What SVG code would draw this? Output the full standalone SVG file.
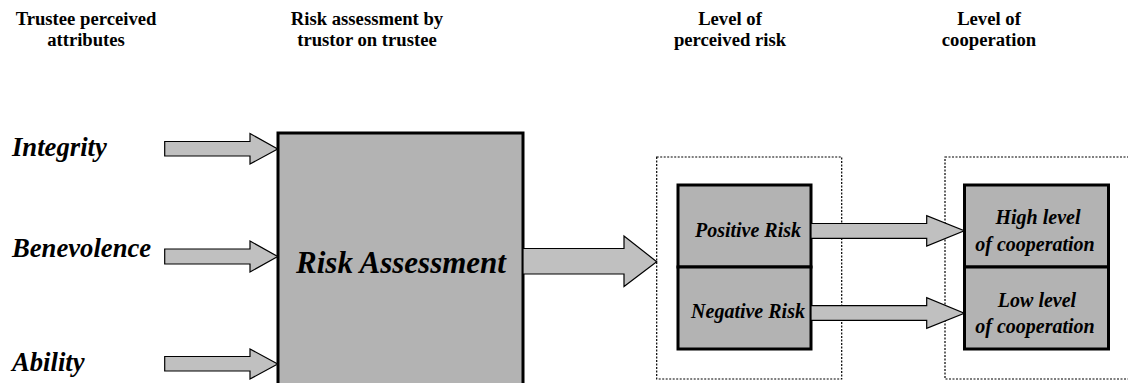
<svg xmlns="http://www.w3.org/2000/svg" width="1128" height="383" viewBox="0 0 1128 383">
  <style>
    .hdr { font-family: "Liberation Serif", "Times New Roman", serif; font-weight: bold; font-size: 18.67px; fill: #000; text-anchor: middle; }
    .attr { font-family: "Liberation Serif", "Times New Roman", serif; font-weight: bold; font-style: italic; font-size: 26.67px; fill: #000; }
    .lbl { font-family: "Liberation Serif", "Times New Roman", serif; font-weight: bold; font-style: italic; font-size: 20px; fill: #000; text-anchor: middle; }
    .big { font-family: "Liberation Serif", "Times New Roman", serif; font-weight: bold; font-style: italic; font-size: 31px; fill: #000; text-anchor: middle; }
    .box { fill: #b3b3b3; stroke: #000; stroke-width: 3; }
    .frame { fill: none; stroke: #000; stroke-width: 1.2; stroke-dasharray: 2 1.5; }
    .arrow { fill: #c0c0c0; stroke: #000; stroke-width: 1.2; stroke-linejoin: miter; }
  </style>

  <!-- column headings -->
  <g id="headings">
    <text class="hdr" x="86" y="25">Trustee perceived</text>
    <text class="hdr" x="86" y="46">attributes</text>
    <text class="hdr" x="367" y="25">Risk assessment by</text>
    <text class="hdr" x="367" y="46">trustor on trustee</text>
    <text class="hdr" x="730" y="25">Level of</text>
    <text class="hdr" x="730" y="46">perceived risk</text>
    <text class="hdr" x="989" y="25">Level of</text>
    <text class="hdr" x="989" y="46">cooperation</text>
  </g>

  <!-- trustee attributes -->
  <g id="integrity"><text class="attr" x="12" y="156">Integrity</text></g>
  <g id="benevolence"><text class="attr" x="12" y="257">Benevolence</text></g>
  <g id="ability"><text class="attr" x="12" y="371">Ability</text></g>

  <!-- central assessment block -->
  <g id="risk-assessment">
    <rect class="box" x="278" y="133" width="245" height="260"/>
    <text class="big" x="401" y="273">Risk Assessment</text>
  </g>

  <!-- perceived risk column -->
  <g id="perceived-risk">
    <rect class="frame" x="656.7" y="157" width="185" height="222"/>
    <rect class="box" x="678" y="185" width="133" height="82"/>
    <rect class="box" x="678" y="267" width="133" height="82"/>
  </g>
  <g id="positive-risk"><text class="lbl" x="748" y="237">Positive Risk</text></g>
  <g id="negative-risk"><text class="lbl" x="748" y="318">Negative Risk</text></g>

  <!-- cooperation column -->
  <g id="cooperation">
    <rect class="frame" x="945" y="157" width="200" height="222"/>
    <rect class="box" x="964.5" y="185" width="144" height="82"/>
    <rect class="box" x="964.5" y="267" width="144" height="82"/>
  </g>
  <g id="high-cooperation">
    <text class="lbl" x="1038" y="224">High level</text>
    <text class="lbl" x="1035" y="251">of cooperation</text>
  </g>
  <g id="low-cooperation">
    <text class="lbl" x="1037" y="307">Low level</text>
    <text class="lbl" x="1035" y="333">of cooperation</text>
  </g>

  <!-- block arrows -->
  <g id="connectors">
    <polygon class="arrow" points="164.7,141.5 250,141.5 250,133.5 277.7,149 250,164 250,156 164.7,156"/>
    <polygon class="arrow" points="164.7,249 250,249 250,241 277.7,256.5 250,272 250,264 164.7,264"/>
    <polygon class="arrow" points="164.7,356.5 250,356.5 250,349 277.7,364 250,379 250,371 164.7,371"/>
    <polygon class="arrow" points="523,248.5 624,248.5 624,236 656.7,261.7 624,286.5 624,274 523,274"/>
    <polygon class="arrow" points="811,223.5 926.7,223.5 926.7,215.7 964.3,230.7 926.7,246 926.7,238.3 811,238.3"/>
    <polygon class="arrow" points="811,305.7 926.7,305.7 926.7,297.7 964.3,313.3 926.7,328.3 926.7,320.3 811,320.3"/>
  </g>
</svg>
